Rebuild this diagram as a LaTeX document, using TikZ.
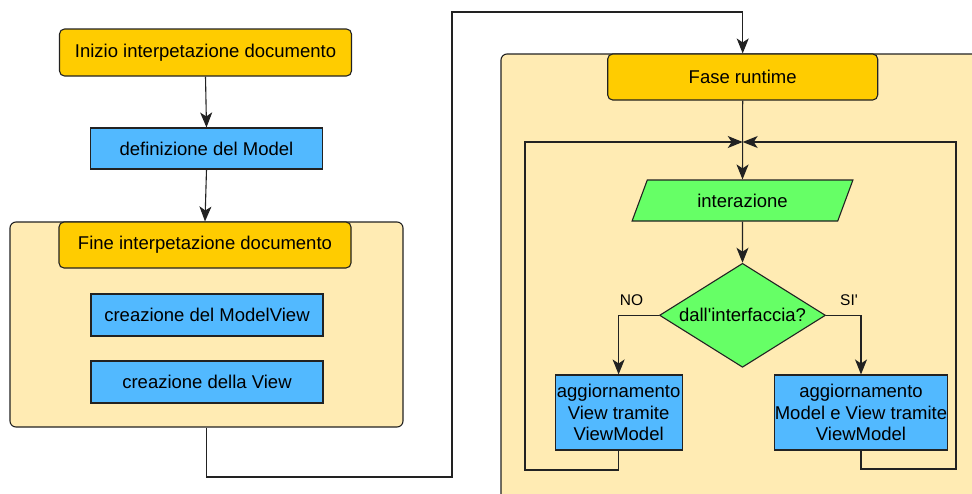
\documentclass[tikz,border=0pt]{standalone}
\usepackage{fontspec}
\setmainfont{Liberation Sans}
\usetikzlibrary{arrows.meta,shapes.geometric}
\definecolor{phasefill}{HTML}{FFCC00}
\definecolor{taskfill}{HTML}{52B9FF}
\definecolor{groupfill}{HTML}{FFEBB3}
\definecolor{iofill}{HTML}{66FF66}
\definecolor{edge}{HTML}{222222}
\begin{document}
\begin{tikzpicture}[x=1pt,y=-1pt,
  base/.style={draw=edge, line width=1.1pt, inner sep=0pt, align=center,
    font=\fontsize{18.5}{21.5}\selectfont},
  phase/.style={base, rounded corners=5pt, fill=phasefill},
  task/.style={base, fill=taskfill},
  group/.style={draw=edge, line width=1.1pt, rounded corners=6pt, fill=groupfill, inner sep=0pt},
  io/.style={base, trapezium, trapezium left angle=62, trapezium right angle=118,
    trapezium stretches=true, fill=iofill},
  choice/.style={base, diamond, aspect=1.6, fill=iofill},
  link/.style={draw=edge, line width=1.1pt},
  flow/.style={link, -{Stealth[length=15pt,width=12pt,inset=4pt]}},
  tag/.style={inner sep=0pt, font=\fontsize{15.5}{18}\selectfont}]
\useasboundingbox (0,0) rectangle (972,493);
\clip (0,0) rectangle (972,493);

% grouping panels
\node[group, minimum width=393pt, minimum height=205pt] (grpA) at (206.5,324.5) {};
\node[group, minimum width=489pt, minimum height=456pt] (grpB) at (745.5,282) {};

% parsing phase
\node[phase, minimum width=292pt, minimum height=47pt] (start) at (205.5,52.5) {Inizio interpetazione documento};
\node[task, minimum width=232pt, minimum height=41pt] (model) at (206.5,148.5) {definizione del Model};
\node[phase, minimum width=292pt, minimum height=46pt] (finish) at (205,245) {Fine interpetazione documento};
\node[task, minimum width=232pt, minimum height=42pt] (mview) at (207,315) {creazione del ModelView};
\node[task, minimum width=232pt, minimum height=42pt] (view) at (207,382) {creazione della View};

% runtime phase
\node[phase, minimum width=270pt, minimum height=46pt] (runtime) at (742.7,77) {Fase runtime};
\node[io, minimum width=221pt, minimum height=41pt] (inter) at (742.5,200.5) {interazione};
\node[choice, minimum width=166pt, minimum height=104pt] (ask) at (742.5,315.3) {dall\textquotesingle interfaccia?};
\node[task, minimum width=127pt, minimum height=75pt] (upview) at (618.6,412.5)
  {aggiornamento\\View tramite\\ViewModel};
\node[task, minimum width=170pt, minimum height=75pt] (upboth) at (861,412.5)
  {aggiornamento\\Model e View tramite\\ViewModel};

\node[tag] (no) at (631.5,300) {NO};
\node[tag] (si) at (849,300) {SI\textquotesingle};

% bend points
\coordinate (p1) at (452,477);
\coordinate (p2) at (452,12);
\coordinate (join) at (742.7,142);
\coordinate (l1) at (525,470);
\coordinate (r1) at (956,469);

% connectors
\draw[flow] (start.south) -- (model.north);
\draw[flow] (model.south) -- (finish.north);
\draw[flow] (grpA.south) |- (p1) -- (p2) -| (runtime.north);
\draw[flow] (runtime.south) -- (inter.north);
\draw[flow] (inter.south) -- (ask.north);
\draw[flow] (ask.west) -| (upview.north);
\draw[flow] (ask.east) -| (upboth.north);
\draw[flow] (upview.south) |- (l1) |- (join);
\draw[flow] (upboth.south) |- (r1) |- (join);
\end{tikzpicture}
\end{document}
